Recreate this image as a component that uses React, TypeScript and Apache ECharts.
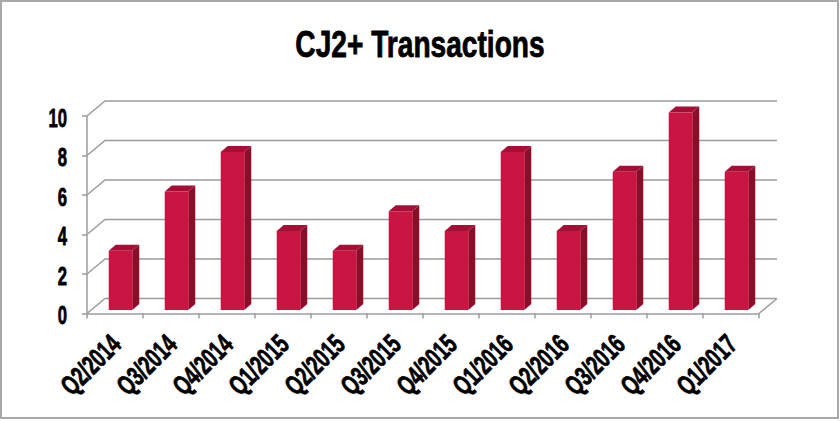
import React, { useEffect, useRef } from "react";
import * as echarts from "echarts";

const categories = [
  "Q2/2014", "Q3/2014", "Q4/2014", "Q1/2015", "Q2/2015", "Q3/2015",
  "Q4/2015", "Q1/2016", "Q2/2016", "Q3/2016", "Q4/2016", "Q1/2017",
];
const transactions = [3, 6, 8, 4, 3, 5, 4, 8, 4, 7, 10, 7];
const yTicks = [0, 2, 4, 6, 8, 10];
const titleText = "CJ2+ Transactions";

const FONT = "'Liberation Sans', Arial, sans-serif";
const GRID_COLOR = "#9c9c9c";

export default function App() {
  const ref = useRef<HTMLDivElement>(null);

  useEffect(() => {
    document.body.style.margin = "0";
    if (!ref.current) return;
    const chart = echarts.init(ref.current, undefined, { renderer: "svg" });

    const wallDX = 18;
    const wallDY = -15;

    chart.setOption({
      animation: false,
      backgroundColor: "#ffffff",
      graphic: [
        {
          type: "rect",
          shape: { x: 1, y: 1, width: 837, height: 417 },
          style: { fill: "none", stroke: "#a8a8a8", lineWidth: 2 },
          silent: true,
        },
        {
          type: "text",
          x: 420,
          y: 44,
          scaleX: 0.76,
          silent: true,
          style: {
            text: titleText,
            fontFamily: FONT,
            fontWeight: "bold",
            fontSize: 37,
            fill: "#000",
            stroke: "#000",
            lineWidth: 0.8,
            align: "center",
            verticalAlign: "middle",
          },
        },
      ],
      grid: { left: 87, right: 81, top: 116, height: 197.5 },
      xAxis: {
        type: "category",
        data: categories,
        boundaryGap: true,
        axisLine: { show: true, lineStyle: { color: GRID_COLOR, width: 1.5 } },
        axisTick: { show: true, length: 5, interval: 0, lineStyle: { color: GRID_COLOR, width: 1.5 } },
        axisLabel: { show: false },
        splitLine: { show: false },
      },
      yAxis: {
        type: "value",
        min: 0,
        max: 10,
        interval: 2,
        axisLine: { show: true, lineStyle: { color: GRID_COLOR, width: 1.5 } },
        axisTick: { show: true, length: 5, lineStyle: { color: GRID_COLOR, width: 1.5 } },
        axisLabel: { show: false },
        splitLine: { show: false },
      },
      series: [
        {
          type: "custom",
          z: 1,
          silent: true,
          data: yTicks.map((v) => [0, v]),
          renderItem: (params: any, api: any) => {
            const cs = params.coordSys;
            const v = api.value(1);
            const y = api.coord([0, v])[1];
            const x0 = cs.x;
            const x1 = cs.x + cs.width;
            const children: any[] = [
              {
                type: "polyline",
                shape: { points: [[x0, y], [x0 + wallDX, y + wallDY], [x1 + wallDX, y + wallDY]] },
                style: { stroke: GRID_COLOR, lineWidth: 1.5, fill: "none" },
              },
              {
                type: "text",
                x: x0 - 20,
                y: y + 2,
                scaleX: 0.64,
                style: {
                  text: String(v),
                  fontFamily: FONT,
                  fontWeight: "bold",
                  fontSize: 26,
                  fill: "#000",
                  stroke: "#000",
                  lineWidth: 0.8,
                  align: "right",
                  verticalAlign: "middle",
                },
              },
            ];
            if (v === 0) {
              children.push({
                type: "line",
                shape: { x1: x1, y1: y, x2: x1 + wallDX, y2: y + wallDY },
                style: { stroke: GRID_COLOR, lineWidth: 1.5 },
              });
            }
            return { type: "group", children };
          },
        },
        {
          type: "custom",
          z: 3,
          data: transactions.map((v, i) => [i, v]),
          renderItem: (params: any, api: any) => {
            const idx = api.value(0);
            const v = api.value(1);
            const top = api.coord([idx, v]);
            const base = api.coord([idx, 0]);
            const band = api.size([1, 0])[0];
            const w = band * 0.42;
            const ox = 5.5;
            const oy = -3.5;
            const dx = 7;
            const dy = -6;
            const x0 = top[0] - w / 2 + ox;
            const yT = top[1] + oy;
            const yB = base[1] + oy;
            return {
              type: "group",
              children: [
                {
                  type: "polygon",
                  shape: { points: [[x0 + w, yT], [x0 + w + dx, yT + dy], [x0 + w + dx, yB + dy], [x0 + w, yB]] },
                  style: { fill: "#8c0c2b" },
                },
                {
                  type: "polygon",
                  shape: { points: [[x0, yT], [x0 + dx, yT + dy], [x0 + w + dx, yT + dy], [x0 + w, yT]] },
                  style: { fill: "#a30f35" },
                },
                {
                  type: "rect",
                  shape: { x: x0, y: yT, width: w, height: yB - yT },
                  style: { fill: "#c91541" },
                },
                {
                  type: "text",
                  x: base[0] + 1,
                  y: base[1] + 26,
                  rotation: Math.PI / 4,
                  scaleX: 0.68,
                  style: {
                    text: categories[idx],
                    fontFamily: FONT,
                    fontWeight: "bold",
                    fontSize: 27.5,
                    fill: "#000",
                    stroke: "#000",
                    lineWidth: 0.8,
                    align: "right",
                    verticalAlign: "middle",
                  },
                },
              ],
            };
          },
        },
      ],
    });

    return () => chart.dispose();
  }, []);

  return <div ref={ref} style={{ width: 840, height: 421 }} />;
}
